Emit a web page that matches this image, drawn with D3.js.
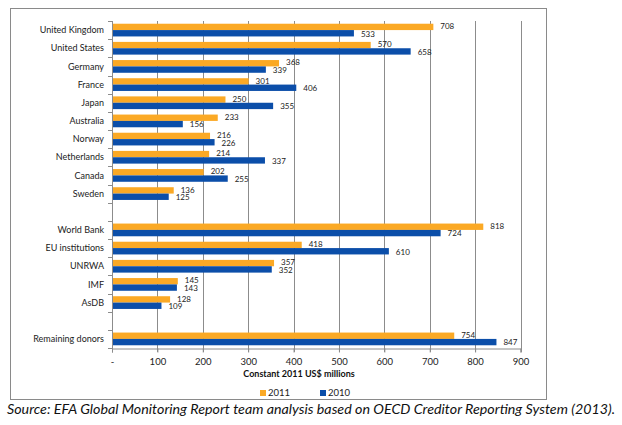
<!DOCTYPE html>
<html><head><meta charset="utf-8">
<script src="https://cdn.jsdelivr.net/npm/d3@7/dist/d3.min.js"></script>
<style>
body{margin:0;background:#fff;}
svg{display:block;font-family:Lato,"Open Sans",sans-serif;}
</style></head>
<body><svg id="c" width="622" height="425"></svg>
<script>
const categories = ["United Kingdom","United States","Germany","France","Japan","Australia","Norway","Netherlands","Canada","Sweden","","World Bank","EU institutions","UNRWA","IMF","AsDB"," ","Remaining donors"];
const values2011 = [708,570,368,301,250,233,216,214,202,136,null,818,418,357,145,128,null,754];
const values2010 = [533,658,339,406,355,156,226,337,255,125,null,724,610,352,143,109,null,847];
const seriesNames = ["2011","2010"];
const seriesColors = ["#FBA925","#0B4EA9"];
const xTicks = [0,100,200,300,400,500,600,700,800,900];
const xTitle = "Constant 2011 US$ millions";
const sourceText = "Source: EFA Global Monitoring Report team analysis based on OECD Creditor Reporting System (2013).";

(function(){
const svg = d3.select("#c");
const pLeft = 112, pRight = 520.5, pTop = 21, pBottom = 348;

// outer frame
svg.append("rect").attr("x",10.5).attr("y",8.5).attr("width",536).attr("height",391)
  .attr("fill","#fff").attr("stroke","#8a8a8a").attr("stroke-width",1);

const x = d3.scaleLinear().domain([0,900]).range([pLeft,pRight]);
const y = d3.scaleBand().domain(categories).range([pTop,pBottom]).paddingInner(0.3).paddingOuter(0.15);
const yi = d3.scaleBand().domain(seriesNames).range([0,y.bandwidth()]);

// gridlines
svg.append("g").selectAll("line").data(xTicks.slice(1)).join("line")
  .attr("x1",d=>Math.round(x(d))+0.5).attr("x2",d=>Math.round(x(d))+0.5)
  .attr("y1",pTop).attr("y2",pBottom+4)
  .attr("stroke","#8c8c8c").attr("stroke-width",1);

// x axis
const xAxis = d3.axisBottom(x).tickValues(xTicks).tickSize(4).tickPadding(6)
  .tickFormat(d=>d===0?"-":d3.format("d")(d));
const gx = svg.append("g").attr("transform",`translate(0,${Math.round(pBottom)+0.5})`).call(xAxis);
gx.select(".domain").attr("stroke","#8c8c8c");
gx.selectAll(".tick line").attr("stroke","#8c8c8c");
gx.selectAll("text").attr("font-size",9.5).attr("fill","#222").attr("font-family","Lato,sans-serif");

// y axis line and boundary ticks
svg.append("line").attr("x1",pLeft+0.5).attr("x2",pLeft+0.5).attr("y1",pTop).attr("y2",pBottom+4)
  .attr("stroke","#8c8c8c");
const bounds = d3.range(categories.length+1).map(i => pTop + i*(pBottom-pTop)/categories.length);
svg.append("g").selectAll("line").data(bounds).join("line")
  .attr("x1",pLeft-4).attr("x2",pLeft).attr("y1",d=>Math.round(d)+0.5).attr("y2",d=>Math.round(d)+0.5)
  .attr("stroke","#8c8c8c");

// category labels
svg.append("g").selectAll("text").data(categories.filter(c=>c.trim()!=="")).join("text")
  .attr("x",pLeft-8).attr("y",d=>y(d)+y.bandwidth()/2).attr("dy","0.35em")
  .attr("text-anchor","end").attr("font-size",9).attr("fill","#222").text(d=>d);

// bars
const series = [values2011, values2010];
const labelShift = [-0.6, 0.6];
series.forEach((vals,si)=>{
  const data = categories.map((c,i)=>({c,v:vals[i]})).filter(d=>d.v!=null);
  const g = svg.append("g");
  g.selectAll("rect").data(data).join("rect")
    .attr("x",pLeft+1).attr("y",d=>y(d.c)+yi(seriesNames[si]))
    .attr("width",d=>x(d.v)-pLeft-1).attr("height",yi.bandwidth())
    .attr("fill",seriesColors[si]);
  g.selectAll("text").data(data).join("text")
    .attr("x",d=>x(d.v)+7).attr("y",d=>y(d.c)+yi(seriesNames[si])+yi.bandwidth()/2+labelShift[si])
    .attr("dy","0.35em").attr("font-size",8).attr("fill","#222").text(d=>d.v);
});

// axis title
svg.append("text").attr("x",299).attr("y",377).attr("text-anchor","middle")
  .attr("font-size",9).attr("font-weight","bold").attr("fill","#111").text(xTitle);

// legend
const legX = [260,320];
seriesNames.forEach((s,i)=>{
  svg.append("rect").attr("x",legX[i]).attr("y",390).attr("width",6).attr("height",6).attr("fill",seriesColors[i]);
  svg.append("text").attr("x",legX[i]+8).attr("y",393).attr("dy","0.35em")
    .attr("font-size",9.5).attr("fill","#222").text(s);
});

// source
svg.append("text").attr("x",7).attr("y",414).attr("font-size",13).attr("font-style","italic")
  .attr("fill","#111").attr("textLength",608).attr("lengthAdjust","spacingAndGlyphs").text(sourceText);
})();
</script></body></html>
